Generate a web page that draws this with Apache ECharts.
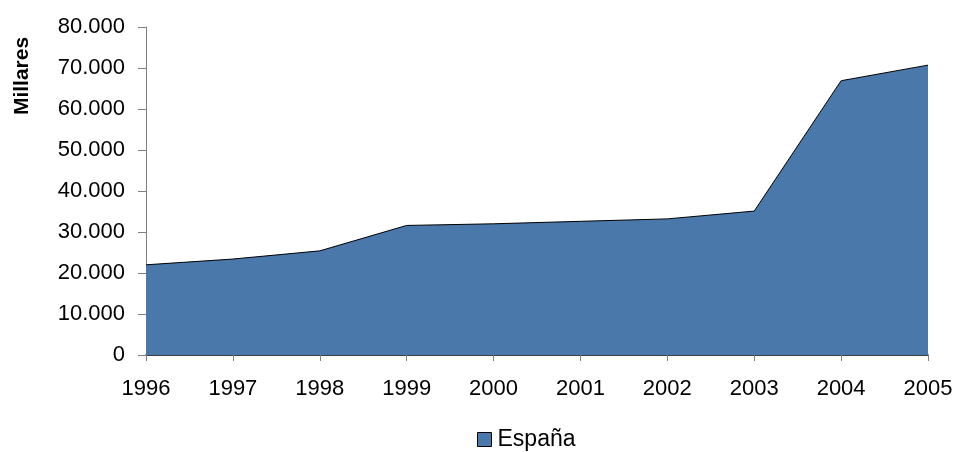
<!DOCTYPE html>
<html><head><meta charset="utf-8">
<script src="https://cdn.jsdelivr.net/npm/echarts@6/dist/echarts.min.js"></script>
<style>html,body{margin:0;padding:0;background:#fff}#c{width:956px;height:452px}</style>
</head><body><div id="c"></div>
<script>
const years = ['1996','1997','1998','1999','2000','2001','2002','2003','2004','2005'];
const espana = [22000, 23400, 25400, 31600, 32000, 32600, 33200, 35100, 66900, 70700];
const seriesName = 'España';
const yAxisTitle = 'Millares';

const FF = 'Liberation Sans';
const chart = echarts.init(document.getElementById('c'));
const fmt = v => v === 0 ? '0' : String(v).replace(/\B(?=(\d{3})+(?!\d))/g, '.');
chart.setOption({
  animation: false,
  textStyle: { fontFamily: FF },
  grid: { left: 146, right: 28, top: 27, bottom: 97, containLabel: false },
  legend: {
    data: [seriesName], bottom: 1, left: 477, padding: 0, itemWidth: 14, itemHeight: 14, itemGap: 6,
    icon: 'rect',
    textStyle: { fontSize: 23, color: '#000', fontFamily: FF, padding: [0, 0, 0, 1] },
    itemStyle: { borderColor: '#000', borderWidth: 1 }
  },
  xAxis: {
    type: 'category', data: years, boundaryGap: false,
    axisLine: { lineStyle: { color: '#000', width: 1.5 } },
    axisTick: { show: true, length: 6, alignWithLabel: true, lineStyle: { color: '#808080' } },
    axisLabel: { fontSize: 22, color: '#000', margin: 23, fontFamily: FF },
    splitLine: { show: false }
  },
  yAxis: {
    type: 'value', min: 0, max: 80000, interval: 10000,
    axisLine: { show: true, lineStyle: { color: '#808080', width: 1 } },
    axisTick: { show: true, length: 8, lineStyle: { color: '#808080' } },
    axisLabel: { fontSize: 22, color: '#000', margin: 21, formatter: fmt, fontFamily: FF },
    splitLine: { show: false }
  },
  graphic: [{
    type: 'group', x: 22, y: 76, rotation: Math.PI / 2,
    children: [{
      type: 'text', x: 0, y: 0,
      style: { text: yAxisTitle, fontSize: 21, fontWeight: 'bold', fontFamily: FF, fill: '#000', align: 'center', verticalAlign: 'middle' }
    }]
  }],
  series: [{
    name: seriesName, type: 'line', data: espana, symbol: 'none',
    lineStyle: { color: '#000', width: 1 },
    itemStyle: { color: '#4A78AA' },
    areaStyle: { color: '#4A78AA', opacity: 1 }
  }]
});
</script></body></html>
